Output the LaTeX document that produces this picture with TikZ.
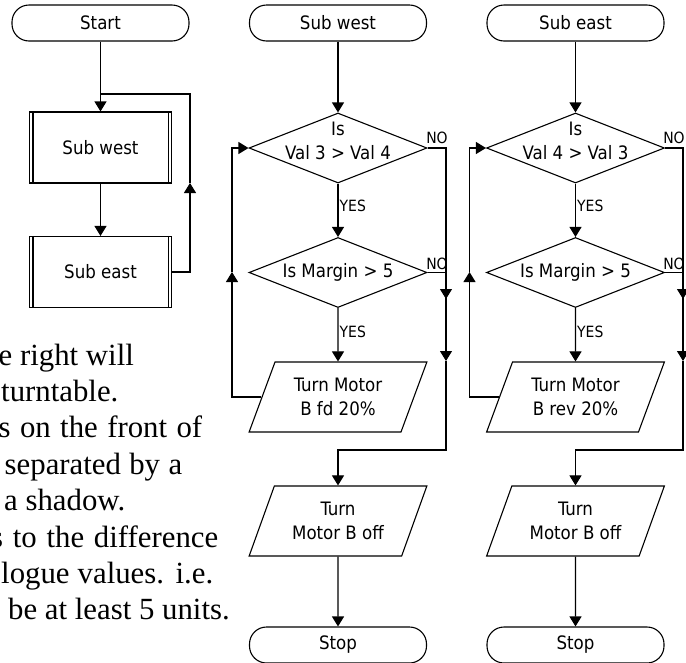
\documentclass[tikz,border=0pt]{standalone}
\usepackage{fontspec}
\usetikzlibrary{arrows.meta,shapes.geometric}
\newfontfamily\diagfont{DejaVu Sans Condensed}
\newfontfamily\bodyfont{Liberation Serif}
\tikzset{
  base/.style={draw, line width=1.1pt, font=\diagfont\fontsize{18.5}{23.5}\selectfont, inner sep=0pt, align=center},
  term/.style={base, rounded corners=17pt, minimum width=177pt, minimum height=36pt},
  predef/.style={base, minimum width=142pt, minimum height=71pt},
  decision/.style={base, diamond, aspect=2.54, minimum width=178pt, minimum height=70pt},
  io/.style={base, trapezium, trapezium left angle=64, trapezium right angle=116, trapezium stretches=true, minimum width=178pt, minimum height=70pt},
  conn/.style={line width=1.1pt},
  arr/.style={conn, -{Triangle[length=10pt,width=12pt]}},
  yn/.style={font=\diagfont\fontsize{15.5}{18}\selectfont, inner sep=0pt},
  dlabel/.style={font=\diagfont\fontsize{18.5}{23.5}\selectfont, align=center, inner sep=0pt},
  para/.style={font=\bodyfont\fontsize{30.8}{36}\selectfont, anchor=base west, inner sep=0pt},
}
\begin{document}
\begin{tikzpicture}[x=1pt,y=-1pt]
\useasboundingbox (0,0) rectangle (686,662);
\fill[white] (0,0) rectangle (686,662);
\clip (0,0) rectangle (686,662);

% ---------- left column ----------
\node[term] (start) at (100.5,23) {Start};
\node[predef] (lsubw) at (100.5,147.5) {Sub west};
\node[predef] (lsube) at (100.5,272) {Sub east};
\draw[conn] ([xshift=4pt]lsubw.north west) -- ([xshift=4pt]lsubw.south west);
\draw[conn] ([xshift=-4pt]lsubw.north east) -- ([xshift=-4pt]lsubw.south east);
\draw[conn] ([xshift=4pt]lsube.north west) -- ([xshift=4pt]lsube.south west);
\draw[conn] ([xshift=-4pt]lsube.north east) -- ([xshift=-4pt]lsube.south east);
\draw[arr] (start) -- (lsubw);
\draw[arr] (lsubw) -- (lsube);
\coordinate (la) at (190,272);
\coordinate (lb) at (190,183);
\coordinate (lc) at (190,94);
\coordinate (ld) at (100.5,94);
\draw[arr] (lsube.east) -- (la) -- (lb);
\draw[conn] (lb) -- (lc) -- (ld);

% ---------- left text ----------
\node[para] (t1) at (-1.5,365) {e right will};
\node[para] (t2) at (1,401) {turntable.};
\node[para] (t3) at (-1.5,437.5) {\makebox[203.5pt][s]{s on the front of}};
\node[para] (t4) at (4.5,474) {\makebox[177.5pt][s]{separated by a}};
\node[para] (t5) at (4,510.5) {a shadow.};
\node[para] (t6) at (-9,547) {\makebox[227pt][s]{s to the difference}};
\node[para] (t7) at (1,583) {\makebox[212pt][s]{logue values. i.e.}};
\node[para] (t8) at (8,619.5) {be at least 5 units.};

% ---------- middle column ----------
\node[term] (msub) at (338,23) {Sub west};
\node[decision, label={[dlabel, yshift=7pt]center:Is\\Val 3 > Val 4}] (md1) at (338,148) {};
\node[decision, label={[dlabel]center:Is Margin > 5}] (md2) at (338,272.5) {};
\node[io] (mp1) at (338,397) {Turn Motor\\B fd 20\%};
\node[io] (mp2) at (338,521) {Turn\\Motor B off};
\node[term] (mstop) at (338,645) {Stop};
\node[yn, anchor=west] (myes1) at (339.5,206) {YES};
\node[yn, anchor=west] (myes2) at (339.5,332) {YES};
\node[yn] (mno1) at (437,138) {NO};
\node[yn] (mno2) at (437,263.5) {NO};
\draw[arr] (msub) -- (md1);
\draw[arr] (md1) -- (md2);
\draw[arr] (md2) -- (mp1);
\draw[arr] (mp2) -- (mstop);
\coordinate (mr1) at (446,148);
\coordinate (mr2) at (446,361);
\coordinate (mr3) at (446,450);
\coordinate (mr4) at (338,450);
\coordinate (mq1) at (446,272.5);
\coordinate (mq2) at (446,299);
\draw[arr] (md1.east) -- (mr1) -- (mr2);
\draw[arr] (mr2) -- (mr3) -- (mr4) -- (mp2);
\draw[arr] (md2.east) -- (mq1) -- (mq2);
\coordinate (ml1) at (232,397);
\coordinate (ml2) at (232,272);
\coordinate (ml3) at (232,148);
\draw[arr] (mp1.left side) -- (ml1) -- (ml2);
\draw[arr] (ml2) -- (ml3) -- (md1.west);

% ---------- right column ----------
\node[term] (rsub) at (575.5,23) {Sub east};
\node[decision, label={[dlabel, yshift=7pt]center:Is\\Val 4 > Val 3}] (rd1) at (575.5,148) {};
\node[decision, label={[dlabel]center:Is Margin > 5}] (rd2) at (575.5,272.5) {};
\node[io] (rp1) at (575.5,397) {Turn Motor\\B rev 20\%};
\node[io] (rp2) at (575.5,521) {Turn\\Motor B off};
\node[term] (rstop) at (575.5,645) {Stop};
\node[yn, anchor=west] (ryes1) at (577,206) {YES};
\node[yn, anchor=west] (ryes2) at (577,332) {YES};
\node[yn] (rno1) at (674,138) {NO};
\node[yn] (rno2) at (674,263.5) {NO};
\draw[arr] (rsub) -- (rd1);
\draw[arr] (rd1) -- (rd2);
\draw[arr] (rd2) -- (rp1);
\draw[arr] (rp2) -- (rstop);
\coordinate (rr1) at (683,148);
\coordinate (rr2) at (683,361);
\coordinate (rr3) at (683,450);
\coordinate (rr4) at (575.5,450);
\coordinate (rq1) at (683,272.5);
\coordinate (rq2) at (683,299);
\draw[arr] (rd1.east) -- (rr1) -- (rr2);
\draw[arr] (rr2) -- (rr3) -- (rr4) -- (rp2);
\draw[arr] (rd2.east) -- (rq1) -- (rq2);
\coordinate (rl1) at (469.5,397);
\coordinate (rl2) at (469.5,272);
\coordinate (rl3) at (469.5,148);
\draw[arr] (rp1.left side) -- (rl1) -- (rl2);
\draw[arr] (rl2) -- (rl3) -- (rd1.west);
\end{tikzpicture}
\end{document}
